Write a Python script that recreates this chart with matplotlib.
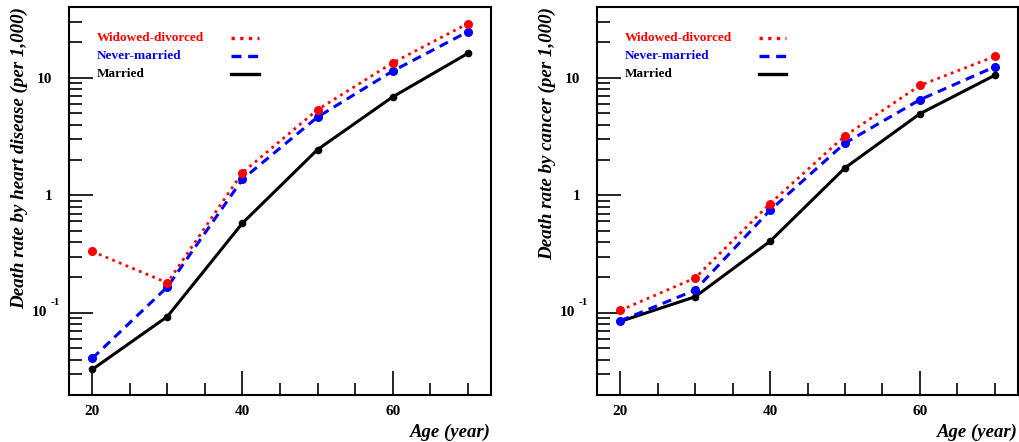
import numpy as np
import matplotlib
matplotlib.use("Agg")
import matplotlib.pyplot as plt
from matplotlib.ticker import FixedLocator, FixedFormatter, LogLocator, NullFormatter, MultipleLocator

plt.rcParams['font.family'] = ['Liberation Serif', 'DejaVu Serif']
plt.rcParams['font.weight'] = 'bold'

# --- data (death rate per 1,000) ---
ages = [20, 30, 40, 50, 60, 70]

heart_widowed = [0.333, 0.180, 1.56, 5.35, 13.4, 28.9]
heart_never = [0.041, 0.166, 1.37, 4.63, 11.4, 24.6]
heart_married = [0.033, 0.093, 0.58, 2.45, 6.87, 16.1]

cancer_widowed = [0.105, 0.198, 0.85, 3.21, 8.6, 15.2]
cancer_never = [0.0855, 0.156, 0.746, 2.78, 6.5, 12.4]
cancer_married = [0.0845, 0.137, 0.406, 1.71, 4.94, 10.5]

legend_names = ['Widowed-divorced', 'Never-married', 'Married']
y_tick_vals = [0.1, 1, 10]
y_tick_text = ['', '1', '10']   # 10^-1 is written by hand below, ROOT style

fig = plt.figure(figsize=(10.19, 4.42), dpi=100)
ax_left = fig.add_axes([69 / 1019, 47 / 442, 422 / 1019, 388 / 442])
ax_right = fig.add_axes([597 / 1019, 47 / 442, 421 / 1019, 388 / 442])

dotted = (0, (1, 1.6))
dashed = (0, (3, 2))


def draw_panel(ax, widowed, never, married, ylabel):
    ax.plot(ages, married, color='black', lw=2.2, ls='-', marker='o', ms=4.5, zorder=3)
    ax.plot(ages, never, color='blue', lw=2.2, ls=dashed, marker='o', ms=5.5, zorder=4)
    ax.plot(ages, widowed, color='red', lw=2.0, ls=dotted, marker='o', ms=5.5, zorder=5)

    ax.set_yscale('log')
    ax.set_xlim(16.9, 73.1)
    ax.set_ylim(0.02, 40)

    # ROOT-like ticks: inside, left and bottom only
    ax.xaxis.set_major_locator(FixedLocator([20, 40, 60]))
    ax.xaxis.set_minor_locator(MultipleLocator(5))
    ax.yaxis.set_major_locator(FixedLocator(y_tick_vals))
    ax.yaxis.set_major_formatter(FixedFormatter(y_tick_text))
    ax.yaxis.set_minor_locator(LogLocator(base=10, subs=np.arange(2, 10)))
    ax.yaxis.set_minor_formatter(NullFormatter())
    ax.tick_params(which='both', direction='in', top=False, right=False, width=1.2)
    ax.tick_params(axis='y', which='major', length=17, labelsize=11, pad=12)
    ax.tick_params(axis='x', which='major', length=17, labelsize=11, pad=7)
    ax.tick_params(which='minor', length=9)
    for s in ax.spines.values():
        s.set_linewidth(1.5)

    # the 10^-1 label
    ax.annotate('10', xy=(0, 0.1), xycoords=('axes fraction', 'data'), xytext=(-22, 0),
                textcoords='offset pixels', ha='right', va='center', fontsize=11, weight='bold')
    ax.annotate('-1', xy=(0, 0.1), xycoords=('axes fraction', 'data'), xytext=(-18, 10),
                textcoords='offset pixels', ha='left', va='center', fontsize=8, weight='bold')

    ax.set_xlabel('Age (year)', fontsize=13.5, style='italic', weight='bold', loc='right', labelpad=4)
    ax.set_ylabel(ylabel, fontsize=13.7, style='italic', weight='bold', ha='right')
    ax.yaxis.set_label_coords(-0.098, 1.0)

    # legend drawn as text and short line samples, ROOT style
    colors = ['red', 'blue', 'black']
    styles = [dotted, dashed, '-']
    for i, (name, c, st) in enumerate(zip(legend_names, colors, styles)):
        yy = 0.92 - i * 0.046
        ax.text(0.065, yy, name, color=c, fontsize=9.5, weight='bold', transform=ax.transAxes, va='center')
        ax.plot([0.385, 0.45], [yy, yy], color=c, ls=st, lw=2.4, transform=ax.transAxes)


draw_panel(ax_left, heart_widowed, heart_never, heart_married, 'Death rate by heart disease (per 1,000)')
draw_panel(ax_right, cancer_widowed, cancer_never, cancer_married, 'Death rate by cancer (per 1,000)')

fig.savefig('out.png', dpi=100)
